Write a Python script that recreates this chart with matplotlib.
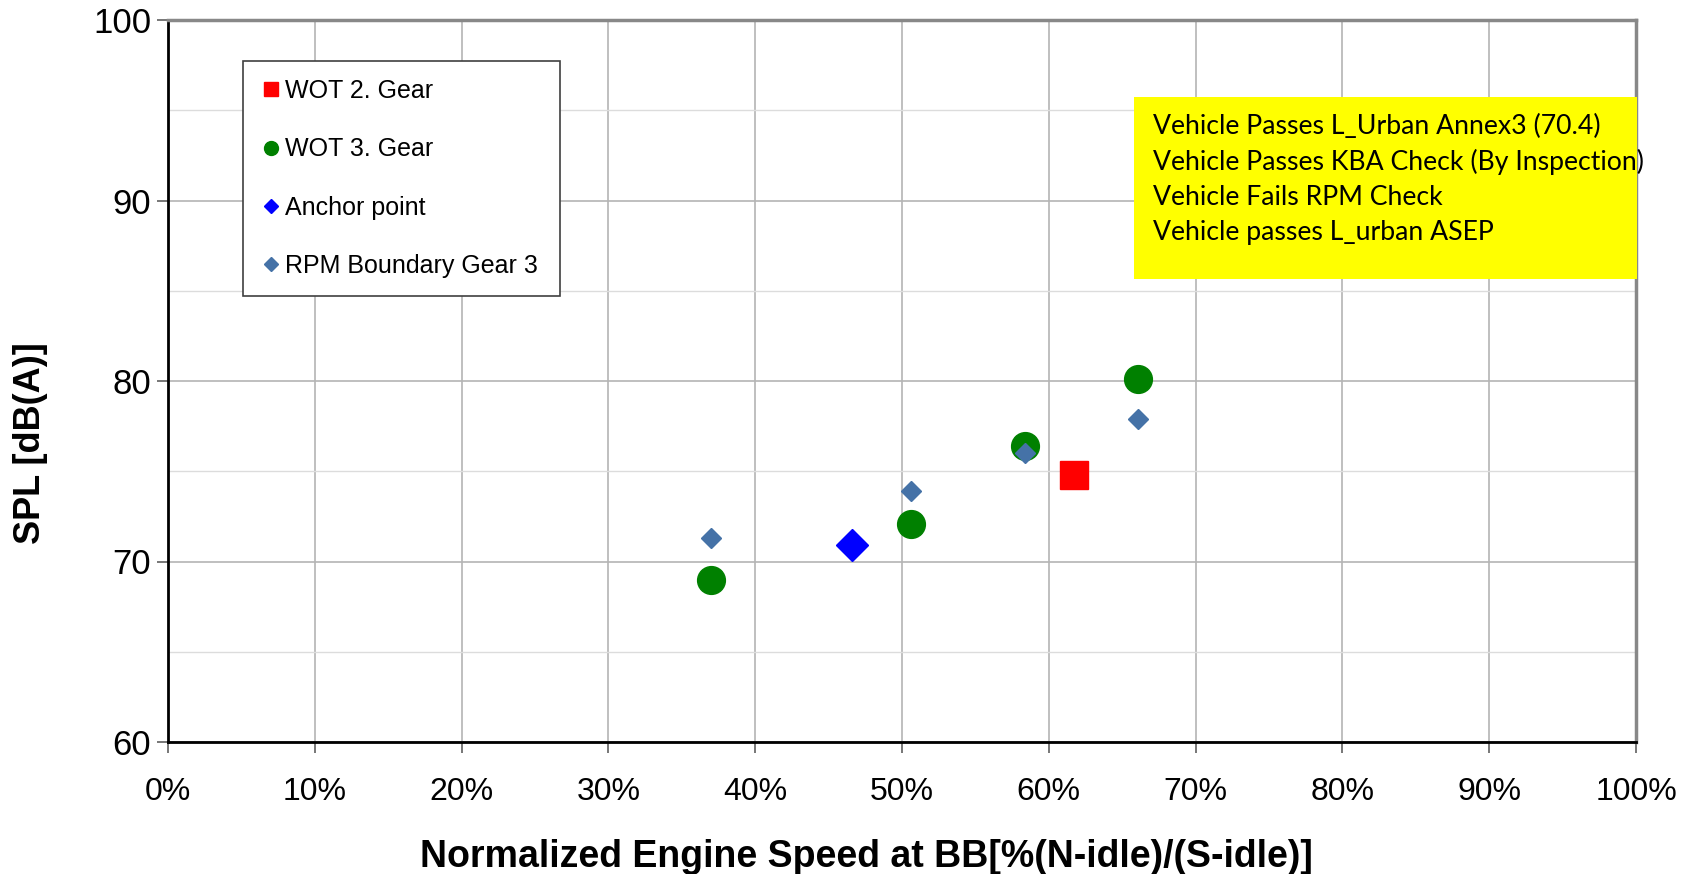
import matplotlib
matplotlib.use("Agg")
import matplotlib.pyplot as plt
from matplotlib.lines import Line2D
from matplotlib.patches import Rectangle
from matplotlib.ticker import MultipleLocator, PercentFormatter

plt.rcParams['font.family'] = ['Liberation Sans', 'DejaVu Sans']

# data (x in % of normalized engine speed, y in dB(A))
wot2_x = [61.7]
wot2_y = [74.8]
wot3_x = [37.0, 50.6, 58.4, 66.1]
wot3_y = [69.0, 72.1, 76.4, 80.1]
anchor_x = [46.6]
anchor_y = [70.9]
bound_x = [37.0, 50.6, 58.4, 66.1]
bound_y = [71.3, 73.9, 76.0, 77.9]

info_lines = ["Vehicle Passes L_Urban Annex3 (70.4)",
              "Vehicle Passes KBA Check (By Inspection)",
              "Vehicle Fails RPM Check",
              "Vehicle passes L_urban ASEP"]

fig = plt.figure(figsize=(16.96, 8.74), dpi=100)
ax = fig.add_axes([168/1696, 1-742/874, 1468/1696, 722/874])

ax.plot(bound_x, bound_y, ls='none', marker='D', ms=10.5, color='#4572a7', zorder=5)
ax.plot(wot3_x, wot3_y, ls='none', marker='o', ms=20, color='#008000', zorder=4)
ax.plot(anchor_x, anchor_y, ls='none', marker='D', ms=16.5, color='#0000ff', zorder=5)
ax.plot(wot2_x, wot2_y, ls='none', marker='s', ms=20.5, color='#ff0000', zorder=5)

ax.set_xlim(0, 100)
ax.set_ylim(60, 100)
ax.xaxis.set_major_locator(MultipleLocator(10))
ax.xaxis.set_major_formatter(PercentFormatter(decimals=0))
ax.yaxis.set_major_locator(MultipleLocator(10))
ax.yaxis.set_minor_locator(MultipleLocator(5))
ax.grid(True, which='major', color='#b4b4b4', lw=1.2)
ax.grid(True, which='minor', axis='y', color='#dcdcdc', lw=1.0)
ax.set_axisbelow(True)
ax.tick_params(which='major', direction='out', length=8, width=1.2, color='#606060')
ax.tick_params(axis='x', labelsize=23, pad=17)
ax.tick_params(axis='y', labelsize=25, pad=4)
ax.tick_params(which='minor', length=0)

for s in ['left', 'bottom']:
    ax.spines[s].set_color('black')
    ax.spines[s].set_linewidth(2)
for s in ['top', 'right']:
    ax.spines[s].set_color('#888888')
    ax.spines[s].set_linewidth(2.5)

ax.set_xlabel('Normalized Engine Speed at BB[%(N-idle)/(S-idle)]', fontsize=27,
              fontweight='bold', labelpad=23)
ax.xaxis.label.set_x(0.476)
ax.set_ylabel('SPL [dB(A)]', fontsize=26, fontweight='bold')
ax.yaxis.set_label_coords(-0.082, 0.414)

handles = [
    Line2D([], [], ls='none', marker='s', ms=10, color='#ff0000', label='WOT 2. Gear'),
    Line2D([], [], ls='none', marker='o', ms=10, color='#008000', label='WOT 3. Gear'),
    Line2D([], [], ls='none', marker='D', ms=7.5, color='#0000ff', label='Anchor point'),
    Line2D([], [], ls='none', marker='D', ms=7.5, color='#4572a7', label='RPM Boundary Gear 3'),
]
leg = ax.legend(handles=handles, loc='upper left',
                bbox_to_anchor=(0.0511, 0.622, 0.216, 0.321), mode='expand',
                fontsize=18, frameon=True, fancybox=False, framealpha=1,
                edgecolor='#404040', borderaxespad=0, borderpad=0.72,
                labelspacing=1.37, handlelength=0.8, handletextpad=0.15)
leg.get_frame().set_linewidth(1.2)

# yellow info box
ax.add_patch(Rectangle((0.658, 0.641), 0.343, 0.252, transform=ax.transAxes,
                       facecolor='#ffff00', edgecolor='none', zorder=6, clip_on=False))
for i, line in enumerate(info_lines):
    ax.text(0.671, (742 - 126 - i*35.6)/722, line, transform=ax.transAxes,
            fontsize=19.2, family=['Lato', 'DejaVu Sans'], va='center', ha='left',
            zorder=7)

fig.savefig('out.png', dpi=100)
